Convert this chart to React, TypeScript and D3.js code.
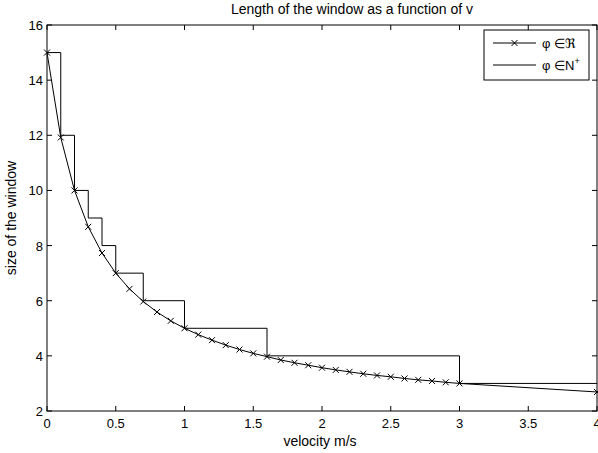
import React from "react";
import * as d3 from "d3";

const velocity = [0, 0.1, 0.2, 0.3, 0.4, 0.5, 0.6, 0.7, 0.8, 0.9, 1.0, 1.1, 1.2, 1.3, 1.4, 1.5, 1.6, 1.7, 1.8, 1.9, 2.0, 2.1, 2.2, 2.3, 2.4, 2.5, 2.6, 2.7, 2.8, 2.9, 3.0, 4.0];
const windowReal = [15, 11.92, 10, 8.68, 7.73, 7, 6.43, 5.97, 5.59, 5.27, 5, 4.77, 4.57, 4.39, 4.23, 4.09, 3.97, 3.85, 3.75, 3.66, 3.57, 3.49, 3.42, 3.35, 3.29, 3.24, 3.18, 3.13, 3.09, 3.04, 3, 2.69];
const stepVelocity = [0, 0.1, 0.2, 0.3, 0.4, 0.5, 0.7, 1.0, 1.6, 3.0, 4.0];
const stepWindow = [15, 12, 10, 9, 8, 7, 6, 5, 4, 3, 3];
const xTicks = [0, 0.5, 1, 1.5, 2, 2.5, 3, 3.5, 4];
const yTicks = [2, 4, 6, 8, 10, 12, 14, 16];

const W = 598, H = 453;
const L = 47, R = 597, T = 25, B = 411;
const FONT = "'Liberation Sans', Arial, sans-serif";

export default function App() {
  const x = d3.scaleLinear().domain([0, 4]).range([L, R]);
  const y = d3.scaleLinear().domain([2, 16]).range([B, T]);
  const realPts = velocity.map((v, i) => [v, windowReal[i]] as [number, number]);
  const stepPts = stepVelocity.map((v, i) => [v, stepWindow[i]] as [number, number]);
  const line = d3.line<[number, number]>().x(d => x(d[0])).y(d => y(d[1]));
  const stepLine = d3.line<[number, number]>().x(d => x(d[0])).y(d => y(d[1])).curve(d3.curveStepAfter);
  const tk = 5;
  const m = 3;
  const cross = (cx: number, cy: number, k: string | number) => (
    <path key={k} d={`M${cx - m},${cy - m}L${cx + m},${cy + m}M${cx - m},${cy + m}L${cx + m},${cy - m}`} stroke="#000" strokeWidth={1} />
  );
  const legX = 484, legY = 30, legW = 105, legH = 50;
  return (
    <div style={{ position: "absolute", left: 0, top: 0 }}>
      <svg width={W} height={H} style={{ display: "block", background: "#fff" }} fontFamily={FONT}>
        <rect x={0} y={0} width={W} height={H} fill="#fff" />
        {xTicks.map((t, i) => (
          <g key={"xt" + i}>
            <line x1={x(t)} x2={x(t)} y1={B} y2={B - tk} stroke="#000" />
            <line x1={x(t)} x2={x(t)} y1={T} y2={T + tk} stroke="#000" />
            <text x={x(t)} y={B + 17} fontSize={13} textAnchor="middle">{t}</text>
          </g>
        ))}
        {yTicks.map((t, i) => (
          <g key={"yt" + i}>
            <line x1={L} x2={L + tk} y1={y(t)} y2={y(t)} stroke="#000" />
            <line x1={R} x2={R - tk} y1={y(t)} y2={y(t)} stroke="#000" />
            <text x={L - 4} y={y(t) + 5} fontSize={13} textAnchor="end">{t}</text>
          </g>
        ))}
        <path d={stepLine(stepPts) || ""} fill="none" stroke="#000" strokeWidth={1} />
        <path d={line(realPts) || ""} fill="none" stroke="#000" strokeWidth={1} />
        {realPts.map((p, i) => cross(x(p[0]), y(p[1]), "c" + i))}
        <rect x={L} y={T} width={R - L} height={B - T} fill="none" stroke="#000" strokeWidth={1} />
        <rect x={legX} y={legY} width={legW} height={legH} fill="#fff" stroke="#000" strokeWidth={1} />
        <line x1={legX + 9} x2={legX + 52} y1={legY + 13} y2={legY + 13} stroke="#000" />
        {cross(legX + 30.5, legY + 13, "lc")}
        <text x={legX + 58} y={legY + 18} fontSize={13}>{"\u03C6 \u2208\u211C"}</text>
        <line x1={legX + 9} x2={legX + 52} y1={legY + 35} y2={legY + 35} stroke="#000" />
        <text x={legX + 58} y={legY + 40} fontSize={13}>
          {"\u03C6 \u2208N"}
          <tspan fontSize={9} dy={-6}>+</tspan>
        </text>
        <text x={352} y={14} fontSize={14} textAnchor="middle">Length of the window as a function of v</text>
        <text x={320} y={446} fontSize={14} textAnchor="middle">velocity m/s</text>
        <text transform={`translate(16,${(T + B) / 2}) rotate(-90)`} fontSize={14} textAnchor="middle">size of the window</text>
      </svg>
    </div>
  );
}
